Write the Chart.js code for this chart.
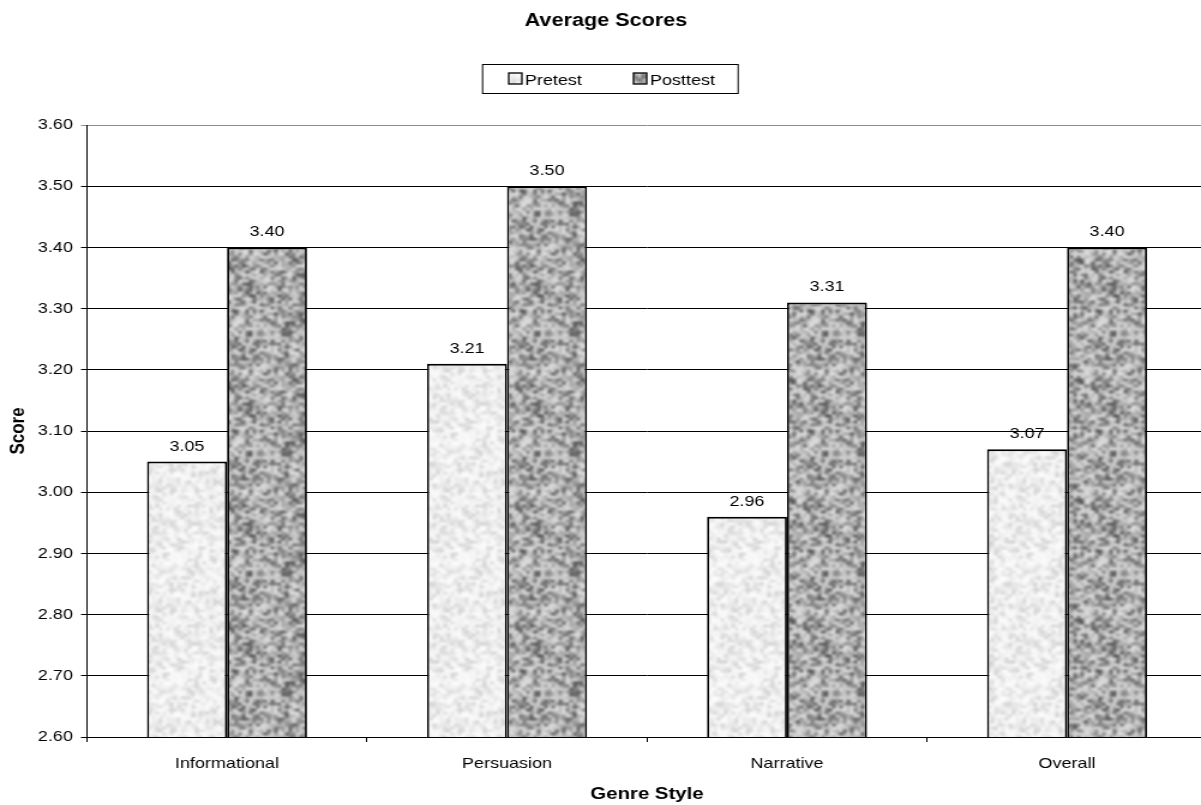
<!DOCTYPE html>
<html>
<head>
<meta charset="utf-8">
<title>Average Scores</title>
<script src="https://cdn.jsdelivr.net/npm/chart.js@4/dist/chart.umd.min.js"></script>
<style>
  html, body { margin: 0; padding: 0; background: #ffffff; overflow: hidden; }
  #chart { display: block; }
</style>
</head>
<body>
<canvas id="chart" width="1006" height="805" style="width:1207px;height:805px"></canvas>
<script>
// Genre styles and the two test rounds
const categories = ['Informational', 'Persuasion', 'Narrative', 'Overall'];
const pretest = [3.05, 3.21, 2.96, 3.07];
const posttest = [3.40, 3.50, 3.31, 3.40];
const seriesNames = ['Pretest', 'Posttest'];
const yMin = 2.60;
const yMax = 3.60;
const yStep = 0.10;

const FONT = '"Liberation Sans", Arial, Helvetica, sans-serif';
const canvas = document.getElementById('chart');
const ctx = canvas.getContext('2d');

// Speckled fill: deterministic noise grid, upscaled bilinearly with wrap-around
// and softened by a wrapping box blur, so the tile repeats without seams
function noisePattern(seed, shade) {
  const cells = 40, scale = 3, size = cells * scale;
  let s = seed >>> 0;
  const rnd = () => ((s = (Math.imul(s, 1664525) + 1013904223) >>> 0) / 4294967296);
  const grid = new Float32Array(cells * cells);
  for (let i = 0; i < grid.length; i++) grid[i] = shade(rnd());
  const wrap = (v, n) => ((v % n) + n) % n;

  const up = new Float32Array(size * size);
  for (let y = 0; y < size; y++) {
    const gy = y / scale - 0.5, y0 = Math.floor(gy), fy = gy - y0;
    for (let x = 0; x < size; x++) {
      const gx = x / scale - 0.5, x0 = Math.floor(gx), fx = gx - x0;
      const a = grid[wrap(y0, cells) * cells + wrap(x0, cells)];
      const b = grid[wrap(y0, cells) * cells + wrap(x0 + 1, cells)];
      const c = grid[wrap(y0 + 1, cells) * cells + wrap(x0, cells)];
      const d = grid[wrap(y0 + 1, cells) * cells + wrap(x0 + 1, cells)];
      up[y * size + x] = (a * (1 - fx) + b * fx) * (1 - fy) + (c * (1 - fx) + d * fx) * fy;
    }
  }

  const tile = document.createElement('canvas');
  tile.width = tile.height = size;
  const tctx = tile.getContext('2d');
  const img = tctx.createImageData(size, size);
  for (let y = 0; y < size; y++) {
    for (let x = 0; x < size; x++) {
      let sum = 0;
      for (let dy = -1; dy <= 1; dy++) {
        for (let dx = -1; dx <= 1; dx++) {
          sum += up[wrap(y + dy, size) * size + wrap(x + dx, size)];
        }
      }
      const v = Math.round(sum / 9);
      const k = (y * size + x) * 4;
      img.data[k] = img.data[k + 1] = img.data[k + 2] = v;
      img.data[k + 3] = 255;
    }
  }
  tctx.putImageData(img, 0, 0);
  return ctx.createPattern(tile, 'repeat');
}

const preFill = noisePattern(12345, r => 252 - 46 * r * r);
const postFill = noisePattern(67890, r => 225 - 150 * Math.pow(r, 1.6));
const fills = [preFill, postFill];

// Title, boxed legend and value labels
const decorations = {
  id: 'decorations',
  afterDatasetsDraw(chart) {
    const c = chart.ctx;
    c.save();
    c.fillStyle = '#000';
    c.font = '15px ' + FONT;
    c.textAlign = 'center';
    c.textBaseline = 'alphabetic';
    chart.data.datasets.forEach((ds, di) => {
      const meta = chart.getDatasetMeta(di);
      meta.data.forEach((bar, i) => {
        c.fillText(ds.data[i].toFixed(2), bar.x, bar.y - 11);
      });
    });
    c.restore();
  },
  afterDraw(chart) {
    const c = chart.ctx;
    c.save();
    // chart title
    c.fillStyle = '#000';
    c.font = 'bold 18px ' + FONT;
    c.textAlign = 'center';
    c.textBaseline = 'alphabetic';
    c.fillText('Average Scores', 505, 26);

    // legend frame
    const lx = 401.7, ly = 64, lw = 214, lh = 30;
    c.fillStyle = '#fff';
    c.fillRect(lx, ly, lw, lh);
    c.strokeStyle = '#000';
    c.lineWidth = 1;
    c.strokeRect(lx + 0.5, ly + 0.5, lw - 1, lh - 1);

    const items = [
      { swatch: 424, text: 437.5 },
      { swatch: 528, text: 541.7 }
    ];
    c.font = '15px ' + FONT;
    c.textAlign = 'left';
    items.forEach((it, k) => {
      c.fillStyle = fills[k];
      c.fillRect(it.swatch, 73, 11, 11);
      c.strokeStyle = '#000';
      c.lineWidth = 1.3;
      c.strokeRect(it.swatch, 73, 11, 11);
      c.fillStyle = '#000';
      c.fillText(seriesNames[k], it.text, 84.5);
    });
    c.restore();
  }
};

const barBorder = { top: 2, left: 1.8, right: 1.8, bottom: 0 };

new Chart(canvas, {
  type: 'bar',
  data: {
    labels: categories,
    datasets: [
      {
        label: seriesNames[0],
        data: pretest,
        backgroundColor: preFill,
        borderColor: '#000',
        borderWidth: barBorder,
        borderSkipped: false,
        barPercentage: 1.0,
        categoryPercentage: 160 / 280
      },
      {
        label: seriesNames[1],
        data: posttest,
        backgroundColor: postFill,
        borderColor: '#000',
        borderWidth: barBorder,
        borderSkipped: false,
        barPercentage: 1.0,
        categoryPercentage: 160 / 280
      }
    ]
  },
  options: {
    responsive: false,
    animation: false,
    devicePixelRatio: 1,
    layout: { padding: { top: 125, left: 0, right: 0, bottom: 0 } },
    plugins: {
      legend: { display: false },
      title: { display: false },
      tooltip: { enabled: false }
    },
    scales: {
      x: {
        grid: {
          display: true,
          drawOnChartArea: false,
          drawTicks: true,
          tickLength: 5,
          color: '#000',
          lineWidth: 1
        },
        border: { display: true, color: '#000', width: 1 },
        ticks: {
          color: '#000',
          font: { family: FONT, size: 15 },
          padding: 13,
          maxRotation: 0
        },
        title: {
          display: true,
          text: 'Genre Style',
          color: '#000',
          font: { family: FONT, size: 17, weight: 'bold' },
          padding: { top: 0, bottom: 0 }
        },
        afterFit(scale) { scale.height = 68; }
      },
      y: {
        min: yMin,
        max: yMax,
        grid: {
          color: c => (c.tick && c.tick.value > yMax - 1e-6 ? '#8c8c8c' : '#000'),
          lineWidth: 1,
          tickLength: 5,
          drawTicks: true
        },
        border: { display: true, color: '#000', width: 1 },
        ticks: {
          stepSize: yStep,
          color: '#000',
          font: { family: FONT, size: 15 },
          padding: 6.7,
          callback: v => Number(v).toFixed(2)
        },
        title: {
          display: true,
          text: 'Score',
          color: '#000',
          font: { family: FONT, size: 17, weight: 'bold' },
          padding: { top: 5.6, bottom: 0 }
        },
        afterFit(scale) { scale.width = 72.5; }
      }
    }
  },
  plugins: [decorations]
});
</script>
</body>
</html>
